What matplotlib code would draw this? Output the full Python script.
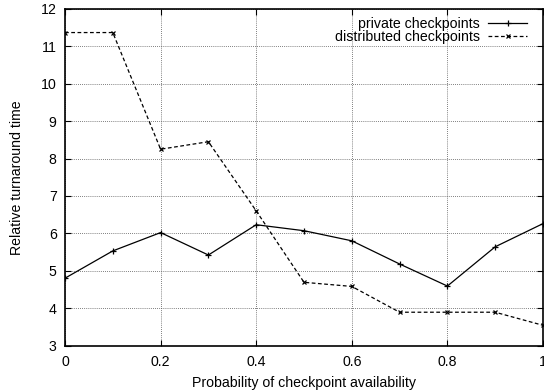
import matplotlib
matplotlib.use('Agg')
import matplotlib.pyplot as plt
import numpy as np

# values
prob = [0.0, 0.1, 0.2, 0.3, 0.4, 0.5, 0.6, 0.7, 0.8, 0.9, 1.0]
private = [4.8, 5.53, 6.02, 5.42, 6.23, 6.07, 5.8, 5.18, 4.59, 5.64, 6.26]
distributed = [11.37, 11.37, 8.25, 8.45, 6.6, 4.69, 4.58, 3.89, 3.89, 3.89, 3.54]
xticks = [0, 0.2, 0.4, 0.6, 0.8, 1.0]
xticklabels = ['0', '0.2', '0.4', '0.6', '0.8', '1']
yticks = list(range(3, 13))

plt.rcParams['font.family'] = ['Liberation Sans', 'DejaVu Sans']
plt.rcParams['font.size'] = 10.2

fig = plt.figure(figsize=(5.44, 3.92), dpi=100)
ax = fig.add_axes([65 / 544, 1 - 345.5 / 392, (543 - 65) / 544, (345.5 - 9) / 392])

ax.plot(prob, private, color='black', lw=0.9, marker='+', ms=4, mew=0.9,
        label='private checkpoints')
ax.plot(prob, distributed, color='black', lw=0.9, ls=(0, (3, 2)), marker='x', ms=3.5, mew=0.9,
        label='distributed checkpoints')

ax.set_xlim(0, 1.0)
ax.set_ylim(3, 12)
ax.set_xticks(xticks)
ax.set_xticklabels(xticklabels)
ax.set_yticks(yticks)
ax.tick_params(direction='in', top=True, right=True, length=4, width=0.8)
ax.tick_params(axis='x', pad=7)
ax.tick_params(axis='y', pad=6)
ax.grid(True, color='#555555', ls=(0, (1, 1.5)), lw=0.6)
for s in ax.spines.values():
    s.set_linewidth(1.2)

ax.set_xlabel('Probability of checkpoint availability', labelpad=5)
ax.set_ylabel('Relative turnaround time', labelpad=12)

leg = ax.legend(loc='upper right', frameon=False, markerfirst=False, handlelength=2.75,
                handletextpad=0.56, labelspacing=-0.08, borderaxespad=0.0, borderpad=0.0,
                bbox_to_anchor=(0.9665, 0.976))

fig.savefig('out.png', dpi=100)
